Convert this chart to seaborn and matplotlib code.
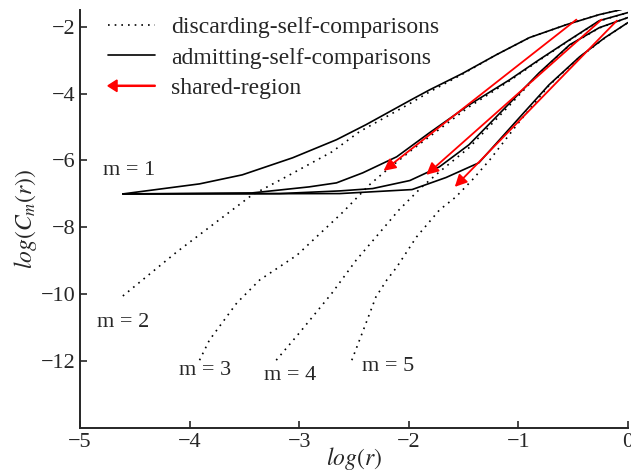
import matplotlib
matplotlib.use('Agg')
import numpy as np
import pandas as pd
import matplotlib.pyplot as plt
import matplotlib.patches as mpatches
from matplotlib.lines import Line2D
from matplotlib.legend_handler import HandlerPatch
import seaborn as sns

# admitting-self-comparisons (solid curves), log(r) vs log(C_m(r))
adm_x1 = [-4.61, -3.91, -3.52, -3.06, -2.66, -2.39, -1.98, -1.81, -1.51, -1.20, -0.90, -0.56, -0.26, -0.06]
adm_y1 = [-7.00, -6.70, -6.43, -5.92, -5.38, -4.93, -4.19, -3.89, -3.40, -2.84, -2.33, -1.94, -1.64, -1.49]
adm_x2 = [-4.61, -3.43, -2.91, -2.66, -2.54, -2.42, -2.11, -1.81, -1.45, -1.08, -0.81, -0.53, -0.26, 0.0]
adm_y2 = [-7.00, -6.97, -6.79, -6.67, -6.52, -6.37, -5.89, -5.17, -4.34, -3.59, -2.99, -2.39, -1.82, -1.58]
adm_x3 = [-4.61, -3.18, -2.63, -2.33, -1.99, -1.72, -1.45, -1.05, -0.81, -0.53, -0.26, 0.0]
adm_y3 = [-7.00, -6.99, -6.91, -6.84, -6.60, -6.19, -5.53, -4.19, -3.38, -2.54, -2.03, -1.73]
adm_x4 = [-4.61, -2.63, -1.97, -1.66, -1.36, -0.99, -0.72, -0.44, -0.21, 0.0]
adm_y4 = [-7.00, -6.99, -6.87, -6.51, -6.07, -4.72, -3.74, -2.90, -2.33, -1.88]

# discarding-self-comparisons (dotted curves)
dis_x1 = [-4.61, -4.12, -3.43, -3.12, -2.70, -2.45, -1.99, -1.81, -1.51, -1.20, -0.90, -0.56, -0.26, -0.06]
dis_y1 = [-10.05, -8.74, -7.03, -6.49, -5.74, -5.14, -4.30, -3.95, -3.42, -2.84, -2.33, -1.94, -1.64, -1.49]
dis_x2 = [-3.91, -3.82, -3.57, -3.36, -3.02, -2.60, -2.36, -2.22, -1.97, -1.45, -1.08, -0.81, -0.53, -0.26, 0.0]
dis_y2 = [-11.97, -11.37, -10.26, -9.57, -8.83, -7.54, -6.73, -6.34, -5.68, -4.40, -3.62, -3.01, -2.40, -1.83, -1.58]
dis_x3 = [-3.21, -3.00, -2.70, -2.48, -2.30, -2.09, -1.88, -1.72, -1.45, -1.05, -0.81, -0.53, -0.26, 0.0]
dis_y3 = [-11.97, -11.16, -9.96, -8.98, -8.29, -7.48, -6.79, -6.34, -5.62, -4.25, -3.40, -2.55, -2.04, -1.73]
dis_x4 = [-2.52, -2.39, -2.30, -2.20, -2.11, -1.93, -1.72, -1.57, -1.42, -1.26, -0.99, -0.72, -0.44, -0.21, 0.0]
dis_y4 = [-11.97, -10.86, -10.08, -9.57, -9.19, -8.29, -7.48, -7.09, -6.58, -5.98, -4.84, -3.76, -2.91, -2.34, -1.88]

# shared-region arrows (start -> tip)
arrow_start_x = [-0.47, -0.24, -0.10]
arrow_start_y = [-1.79, -1.79, -1.82]
arrow_tip_x = [-2.23, -1.84, -1.58]
arrow_tip_y = [-6.31, -6.43, -6.79]

m_labels = ['m = 1', 'm = 2', 'm = 3', 'm = 4', 'm = 5']

sns.set_style('ticks')
plt.rcParams['font.family'] = ['Liberation Serif', 'DejaVu Serif']
plt.rcParams['mathtext.fontset'] = 'stix'
plt.rcParams['xtick.direction'] = 'in'
plt.rcParams['ytick.direction'] = 'in'

fig = plt.figure(figsize=(6.31, 4.72), dpi=100)
ax = fig.add_axes([0.127, 0.093, 0.868, 0.886])

solid = [(adm_x1, adm_y1), (adm_x2, adm_y2), (adm_x3, adm_y3), (adm_x4, adm_y4)]
dotted = [(dis_x1, dis_y1), (dis_x2, dis_y2), (dis_x3, dis_y3), (dis_x4, dis_y4)]

for xs, ys in dotted:
    sns.lineplot(x=xs, y=ys, ax=ax, color='black', lw=1.2, linestyle=(0, (1, 3)),
                 estimator=None, legend=False)
for xs, ys in solid:
    sns.lineplot(x=xs, y=ys, ax=ax, color='black', lw=1.2, estimator=None, legend=False)

for x0, y0, x1, y1 in zip(arrow_start_x, arrow_start_y, arrow_tip_x, arrow_tip_y):
    ax.annotate('', xy=(x1, y1), xytext=(x0, y0),
                arrowprops=dict(arrowstyle='-|>', color='red', lw=1.3,
                                mutation_scale=18, shrinkA=0, shrinkB=0))

# curve labels
label_pos = [(-4.79, -6.31), (-4.85, -10.83), (-4.10, -12.27), (-3.32, -12.42), (-2.43, -12.15)]
for txt, (lx, ly) in zip(m_labels, label_pos):
    ax.text(lx, ly, txt, fontsize=16, ha='left', va='center')

ax.set_xlim(-5, 0)
ax.set_ylim(-14, -1.5)
ax.set_xticks([-5, -4, -3, -2, -1, 0])
ax.set_yticks([-12, -10, -8, -6, -4, -2])
ax.tick_params(labelsize=16, length=5, width=1.2)
for s in ['left', 'bottom']:
    ax.spines[s].set_linewidth(1.4)
sns.despine(ax=ax)

ax.set_xlabel(r'$log(r)$', fontsize=17, labelpad=-5)
ax.set_ylabel(r'$log(C_m(r))$', fontsize=17, labelpad=1)


def make_arrow(legend, orig_handle, xdescent, ydescent, width, height, fontsize):
    return mpatches.FancyArrow(width, 0.5 * height, -width, 0, length_includes_head=True,
                               width=0.8, head_width=0.7 * height, head_length=0.55 * height,
                               color='red')


handles = [
    Line2D([], [], color='black', lw=1.2, linestyle=(0, (1, 3))),
    Line2D([], [], color='black', lw=1.2),
    mpatches.FancyArrow(0, 0, 1, 0, color='red'),
]
labels = ['discarding-self-comparisons', 'admitting-self-comparisons', 'shared-region']
ax.legend(handles, labels, loc='upper left', bbox_to_anchor=(0.012, 1.035), frameon=False,
          fontsize=17, handlelength=2.0, handletextpad=0.68, labelspacing=0.38,
          handler_map={mpatches.FancyArrow: HandlerPatch(patch_func=make_arrow)})

fig.savefig('out.png', dpi=100)
